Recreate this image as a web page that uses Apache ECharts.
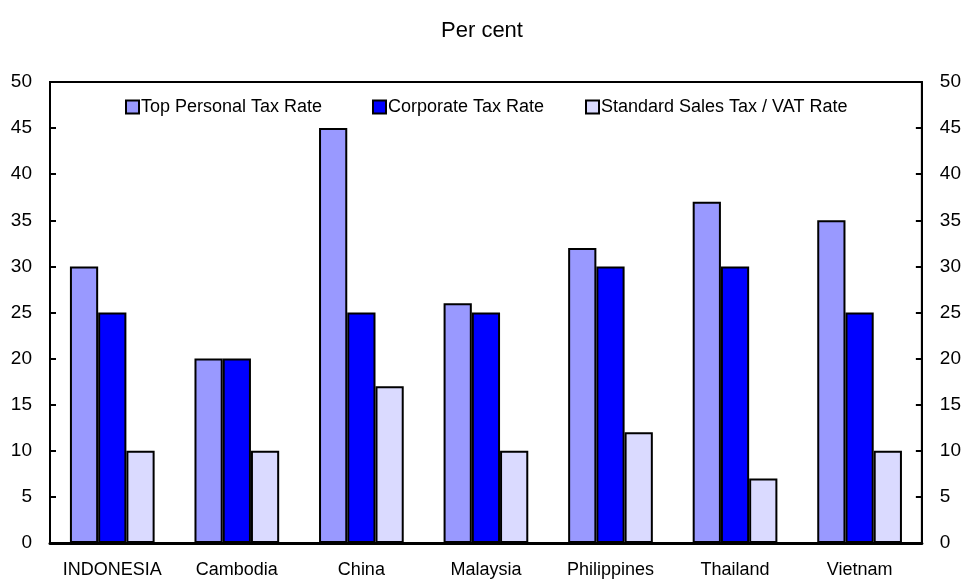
<!DOCTYPE html>
<html>
<head>
<meta charset="utf-8">
<script src="https://cdn.jsdelivr.net/npm/echarts@6/dist/echarts.min.js"></script>
<style>
  html, body { margin: 0; padding: 0; background: #fff; }
  #chart { width: 964px; height: 579px; }
</style>
</head>
<body>
<div id="chart"></div>
<script>
// country labels
const countries = ['INDONESIA', 'Cambodia', 'China', 'Malaysia', 'Philippines', 'Thailand', 'Vietnam'];
// rates, per cent
const topPersonal = [30, 20, 45, 26, 32, 37, 35];
const corporate = [25, 20, 25, 25, 30, 30, 25];
const salesVat = [10, 10, 17, 10, 12, 7, 10];
const seriesNames = ['Top Personal Tax Rate', 'Corporate Tax Rate', 'Standard Sales Tax / VAT Rate'];
const colors = ['#9999ff', '#0000ff', '#dadaff'];

const font = 'Liberation Sans, Arial, sans-serif';
const chart = echarts.init(document.getElementById('chart'));

const valueAxis = (pos) => ({
  type: 'value',
  position: pos,
  min: 0,
  max: 50,
  interval: 5,
  splitLine: { show: false },
  axisLine: { show: true, lineStyle: { color: '#000', width: 2 } },
  axisTick: { show: true, inside: true, length: 6, lineStyle: { color: '#000', width: 2 } },
  axisLabel: { color: '#000', fontSize: 19, fontFamily: font, margin: 18 }
});

// one legend per item so each can sit where the original has it
const legendLefts = [120, 367, 580];
const legends = seriesNames.map((n, i) => ({
  data: [{ name: n, icon: 'rect' }],
  left: legendLefts[i],
  top: 93,
  itemWidth: 13,
  itemHeight: 13,
  itemGap: 0,
  textStyle: { color: '#000', fontSize: 18, fontFamily: font, padding: [0, 0, 0, -3] },
  itemStyle: { borderColor: '#000', borderWidth: 2 }
}));

const bar = (name, data, i) => ({
  name: name,
  type: 'bar',
  data: data,
  barGap: '0%',
  barCategoryGap: '32%',
  itemStyle: { color: colors[i], borderColor: '#000', borderWidth: 2 }
});

chart.setOption({
  backgroundColor: '#fff',
  animation: false,
  title: {
    text: 'Per cent',
    left: 'center',
    top: 15,
    textStyle: { color: '#000', fontSize: 22, fontWeight: 'normal', fontFamily: font }
  },
  legend: legends,
  grid: { left: 50, right: 41, top: 82, bottom: 36, show: true, borderColor: '#000', borderWidth: 2 },
  xAxis: {
    type: 'category',
    data: countries,
    axisLine: { lineStyle: { color: '#000', width: 3 } },
    axisTick: { show: false },
    axisLabel: { color: '#000', fontSize: 18, fontFamily: font, margin: 18, interval: 0 }
  },
  yAxis: [valueAxis('left'), valueAxis('right')],
  series: [
    bar(seriesNames[0], topPersonal, 0),
    bar(seriesNames[1], corporate, 1),
    bar(seriesNames[2], salesVat, 2)
  ]
});
</script>
</body>
</html>
